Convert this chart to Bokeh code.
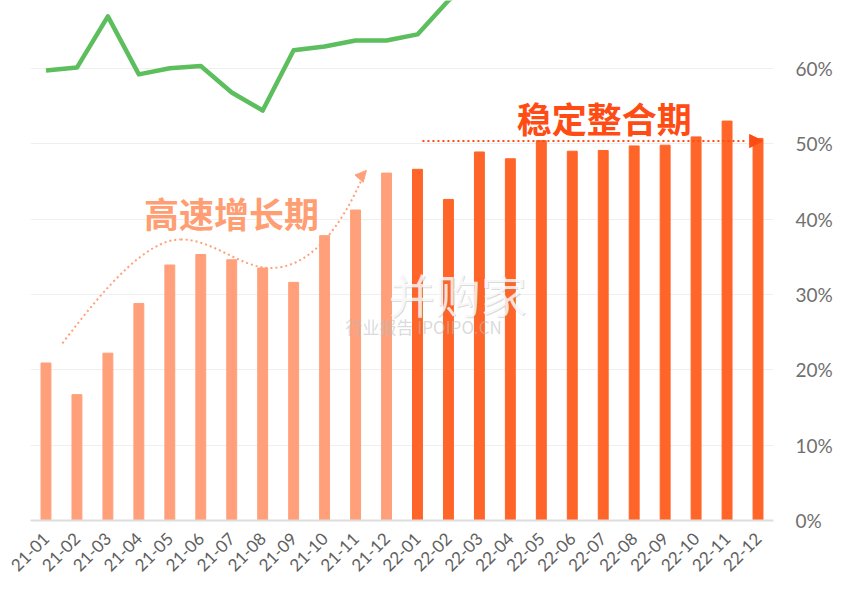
import math
from bokeh.plotting import figure
from bokeh.models import ColumnDataSource, FixedTicker, LinearAxis, Range1d, Arrow, NormalHead
from bokeh.core.properties import value
from bokeh.embed import file_html
from bokeh.resources import INLINE

# ---------------- data ----------------
months = ["21-01", "21-02", "21-03", "21-04", "21-05", "21-06", "21-07", "21-08",
          "21-09", "21-10", "21-11", "21-12", "22-01", "22-02", "22-03", "22-04",
          "22-05", "22-06", "22-07", "22-08", "22-09", "22-10", "22-11", "22-12"]
bar_values = [20.9, 16.7, 22.2, 28.8, 33.9, 35.3, 34.6, 33.5, 31.6, 37.8, 41.2, 46.1,
              46.6, 42.6, 48.9, 48.0, 50.4, 49.0, 49.1, 49.7, 49.8, 50.9, 53.0, 50.7]
line_values = [59.7, 60.1, 66.9, 59.2, 60.0, 60.3, 56.8, 54.4, 62.4, 62.9, 63.7, 63.7,
               64.5, 69.0, 72.0, 73.0, 74.0, 74.5, 75.0, 75.5, 76.0, 76.5, 77.0, 77.5]
y_ticks = [0, 10, 20, 30, 40, 50, 60]
y_tick_labels = ["0%", "10%", "20%", "30%", "40%", "50%", "60%"]

# annotation anchors (data space: month index, percent)
growth_label = ("高速增长期", 5.99, 40.9)
stable_label = ("稳定整合期", 18.03, 53.5)
growth_curve_x0 = [0.53, 4.35, 7.25]
growth_curve_y0 = [23.5, 37.3, 33.5]
growth_curve_x1 = [4.35, 7.25, 10.3]
growth_curve_y1 = [37.3, 33.5, 46.2]
growth_curve_cx0 = [2.0, 5.4, 8.5]
growth_curve_cy0 = [31.5, 37.3, 33.5]
growth_curve_cx1 = [3.3, 6.3, 9.5]
growth_curve_cy1 = [37.3, 33.5, 38.5]
stable_line_x = [12.16, 22.6]
stable_line_y = [50.35, 50.35]

LIGHT = "#FFA07A"
DARK = "#FF6428"
LIGHT_TXT = "#FF9E72"
DARK_TXT = "#FF4C14"
GREEN = "#5DBE5D"

idx = list(range(len(months)))
colors = [LIGHT if m.startswith("21") else DARK for m in months]
src = ColumnDataSource(dict(x=idx, top=bar_values, color=colors, line=line_values))

p = figure(width=849, height=601, output_backend="svg", toolbar_location=None,
           x_range=Range1d(-0.5, len(months) - 0.5), y_range=Range1d(0, 69.0),
           min_border_left=30, min_border_right=76, min_border_top=0, min_border_bottom=81)
p.outline_line_color = None
p.background_fill_color = "white"
p.border_fill_color = "white"
p.yaxis.visible = False
p.ygrid.ticker = FixedTicker(ticks=y_ticks)
p.ygrid.grid_line_color = "#EFEFEF"
p.ygrid.grid_line_width = 1
p.xgrid.grid_line_color = None

# right axis
ra = LinearAxis(ticker=FixedTicker(ticks=y_ticks),
                major_label_overrides={t: l for t, l in zip(y_ticks, y_tick_labels)})
ra.axis_line_color = None
ra.major_tick_line_color = None
ra.minor_tick_line_color = None
ra.major_tick_out = 0
ra.major_tick_in = 0
ra.major_label_standoff = 22
ra.major_label_text_font = "Lato"
ra.major_label_text_font_size = "19px"
ra.major_label_text_color = "#707070"
p.add_layout(ra, "right")

# bottom axis
xa = p.xaxis[0]
xa.ticker = FixedTicker(ticks=idx)
xa.major_label_overrides = {i: m for i, m in zip(idx, months)}
xa.major_label_orientation = math.pi / 4
xa.axis_line_color = "#DDDDDD"
xa.axis_line_width = 2
xa.major_tick_line_color = None
xa.minor_tick_line_color = None
xa.major_tick_out = 0
xa.major_tick_in = 0
xa.major_label_standoff = 15
xa.major_label_text_font = "Lato"
xa.major_label_text_font_size = "17px"
xa.major_label_text_color = "#606060"

# bars
p.vbar(x="x", top="top", width=0.32, bottom=0, color="color", source=src)

# green line
p.line(x="x", y="line", source=src, line_color=GREEN, line_width=4.5, line_join="round")

# watermark
p.text(x=[13.3], y=[30.2], text=["并购家"], text_font=value("Noto Sans CJK SC"),
       text_font_size="46px", text_color="#999999", text_alpha=0.35,
       text_align="center", text_baseline="middle", x_offset=1, y_offset=1)
p.text(x=[13.3], y=[30.2], text=["并购家"], text_font=value("Noto Sans CJK SC"),
       text_font_size="46px", text_color="white", text_alpha=0.8,
       text_align="center", text_baseline="middle")
p.text(x=[12.2], y=[25.8], text=["行业报告 IPOIPO.CN"], text_font=value("Noto Sans CJK SC"),
       text_font_size="17px", text_color="#BBBBBB", text_alpha=0.55,
       text_align="center", text_baseline="middle")

# growth annotation
p.bezier(x0=growth_curve_x0, y0=growth_curve_y0, x1=growth_curve_x1, y1=growth_curve_y1,
         cx0=growth_curve_cx0, cy0=growth_curve_cy0, cx1=growth_curve_cx1, cy1=growth_curve_cy1,
         line_color=LIGHT, line_width=2, line_dash="2 3")
p.add_layout(Arrow(end=NormalHead(size=11, fill_color=LIGHT, line_color=LIGHT),
                   x_start=growth_curve_x1[-1] - 0.08, y_start=growth_curve_y1[-1] - 0.35,
                   x_end=growth_curve_x1[-1] + 0.05, y_end=growth_curve_y1[-1] + 0.25,
                   line_alpha=0))
p.text(x=[growth_label[1]], y=[growth_label[2]], text=[growth_label[0]],
       text_font=value("Noto Sans CJK SC"), text_font_style="bold", text_font_size="35px",
       text_color=LIGHT_TXT, text_align="center", text_baseline="middle")

# stable annotation
p.line(x=stable_line_x, y=stable_line_y, line_color=DARK_TXT, line_width=2, line_dash="2 3")
p.add_layout(Arrow(end=NormalHead(size=13, fill_color=DARK_TXT, line_color=DARK_TXT),
                   x_start=stable_line_x[-1], y_start=stable_line_y[-1],
                   x_end=stable_line_x[-1] + 0.55, y_end=stable_line_y[-1],
                   line_alpha=0))
p.text(x=[stable_label[1]], y=[stable_label[2]], text=[stable_label[0]],
       text_font=value("Noto Sans CJK SC"), text_font_style="bold", text_font_size="35px",
       text_color=DARK_TXT, text_align="center", text_baseline="middle")

open("out.html", "w").write(file_html(p, INLINE))
